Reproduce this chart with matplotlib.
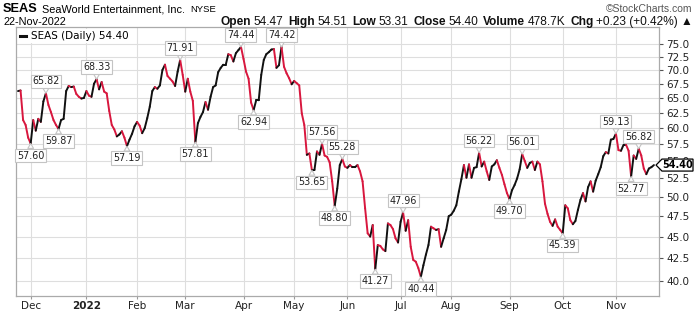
import matplotlib
matplotlib.use("Agg")
import matplotlib.pyplot as plt
import numpy as np
import pandas as pd
from matplotlib.collections import LineCollection
from matplotlib.lines import Line2D
from matplotlib.patches import Polygon
from matplotlib.ticker import FixedLocator, NullLocator, FuncFormatter

# trading days shown on the chart
holidays = ["2021-11-25", "2021-12-24", "2022-01-17", "2022-02-21", "2022-04-15",
            "2022-05-30", "2022-06-20", "2022-07-04", "2022-09-05"]
dates = pd.bdate_range("2021-11-23", "2022-11-22", freq="C", holidays=holidays)

# daily close
closes = [
    66.2, 66.3, 61.3, 60.5, 58.5, 57.60, 61.3, 59.6, 61.5, 61.0,
    64.4, 65.82, 63.8, 62.6, 61.3, 60.5, 59.87, 61.3, 61.5, 66.2,
    67.1, 66.9, 67.0, 65.7, 65.2, 64.9, 65.0, 66.2, 65.4, 65.2,
    67.5, 68.33, 66.5, 67.8, 66.1, 65.8, 62.8, 60.5, 59.8, 58.7,
    59.0, 59.5, 58.5, 57.19, 58.2, 59.1, 60.3, 61.0, 60.4, 59.2,
    60.0, 61.6, 63.5, 66.2, 66.9, 66.6, 67.2, 70.0, 71.0, 68.9,
    68.4, 67.9, 67.1, 69.7, 71.91, 69.1, 66.1, 68.4, 66.1, 64.5,
    57.81, 60.8, 61.8, 62.6, 64.3, 63.0, 65.2, 66.9, 67.2, 69.6,
    70.4, 71.0, 71.0, 73.0, 72.8, 71.6, 73.2, 73.8, 74.44, 72.1,
    69.7, 68.4, 64.2, 62.94, 64.6, 64.6, 69.1, 71.9, 73.0, 73.4,
    73.9, 74.0, 70.4, 70.9, 74.42, 70.6, 69.4, 68.5, 67.4, 68.0,
    67.6, 67.2, 62.4, 60.5, 55.9, 56.1, 53.65, 53.7, 56.4, 55.9,
    57.56, 55.8, 55.6, 54.8, 52.1, 48.80, 51.1, 54.4, 55.28, 54.2,
    54.0, 54.4, 54.1, 54.1, 54.4, 53.5, 52.1, 48.5, 45.4, 45.0,
    46.4, 41.27, 44.0, 43.9, 43.5, 43.3, 46.6, 46.4, 45.9, 44.8,
    44.3, 46.8, 47.96, 45.7, 47.0, 43.8, 42.3, 42.1, 41.4, 40.44,
    41.7, 42.9, 44.0, 46.2, 46.0, 45.8, 45.9, 43.8, 44.8, 45.8,
    47.5, 47.7, 48.2, 48.9, 50.7, 52.4, 54.4, 52.6, 54.5, 52.6,
    54.0, 54.1, 56.22, 54.2, 54.9, 53.5, 52.3, 54.2, 54.5, 55.1,
    54.0, 53.0, 51.7, 50.5, 49.70, 50.9, 51.6, 52.5, 53.8, 56.01,
    55.0, 54.0, 54.7, 54.9, 53.7, 54.9, 54.5, 52.1, 49.1, 47.8,
    46.8, 46.3, 47.1, 46.2, 45.8, 45.39, 48.9, 48.5, 47.0, 46.5,
    46.9, 48.3, 49.6, 50.5, 49.4, 51.3, 52.1, 50.7, 52.2, 53.1,
    54.1, 55.7, 56.3, 56.1, 58.2, 58.3, 59.13, 56.6, 56.5, 57.4,
    57.4, 56.5, 52.77, 55.8, 55.3, 56.82, 55.8, 53.9, 53.1, 53.9,
    54.1, 54.40,
]
dates = dates[-len(closes):]

# labelled swing points (index into closes)
peak_idx = [11, 31, 64, 88, 104, 120, 128, 152, 182, 199, 236, 245]
trough_idx = [5, 16, 43, 70, 93, 116, 125, 141, 159, 194, 215, 242]

price_ticks = [40.0, 42.5, 45.0, 47.5, 50.0, 52.5, 55.0, 57.5, 60.0,
               62.5, 65.0, 67.5, 70.0, 72.5, 75.0]

RED = "#d8173e"
DARK = "#111111"
GRID = "#dedede"

fig = plt.figure(figsize=(7, 3.12), dpi=100)
ax = fig.add_axes([16 / 700, 16 / 312, 643 / 700, 269 / 312])

x = np.arange(len(closes))
y = np.array(closes)
pts = np.column_stack([x, y])
segs = np.stack([pts[:-1], pts[1:]], axis=1)
cols = [RED if b < a else DARK for a, b in zip(y[:-1], y[1:])]
lc = LineCollection(segs, colors=cols, linewidths=1.4, capstyle="round", joinstyle="round", zorder=3)
ax.add_collection(lc)

ax.set_yscale("log")
ax.set_ylim(38.44, 78.46)
ax.set_xlim(-0.8, 253)

# month ticks
month_pos = [i for i in range(1, len(dates)) if dates[i].month != dates[i - 1].month]
month_lab = ["2022" if dates[i].month == 1 else dates[i].strftime("%b") for i in month_pos]
ax.set_xticks(month_pos)
ax.set_xticklabels(month_lab, fontsize=7.5, color="#222222")
for t, lab in zip(ax.get_xticklabels(), month_lab):
    if lab == "2022":
        t.set_fontweight("bold")
ax.tick_params(axis="x", length=2, color="#999999", pad=1.5)

ax.yaxis.tick_right()
ax.yaxis.set_major_locator(FixedLocator(price_ticks))
ax.yaxis.set_minor_locator(NullLocator())
ax.yaxis.set_major_formatter(FuncFormatter(lambda v, p: f"{v:.1f}"))
ax.tick_params(axis="y", labelsize=7.5, length=3, color="#555555", pad=2, labelcolor="#222222")

ax.grid(True, color=GRID, lw=0.8, zorder=0)
ax.set_axisbelow(True)
for s in ax.spines.values():
    s.set_color("#aaaaaa")
    s.set_linewidth(0.9)

box = dict(boxstyle="square,pad=0.18", fc="white", ec="#c4c4c4", lw=0.8)
arrow = dict(arrowstyle="wedge,tail_width=0.6", fc="white", ec="#c4c4c4", lw=0.8, shrinkA=0, shrinkB=0)
for i in peak_idx:
    ax.annotate(f"{closes[i]:.2f}", (i, closes[i]), xytext=(0, 12), textcoords="offset pixels",
                ha="center", va="center", fontsize=6.9, color="#222222", bbox=box, arrowprops=arrow, zorder=5)
for i in trough_idx:
    ax.annotate(f"{closes[i]:.2f}", (i, closes[i]), xytext=(0, -12), textcoords="offset pixels",
                ha="center", va="center", fontsize=6.9, color="#222222", bbox=box, arrowprops=arrow, zorder=5)

leg = ax.legend(handles=[Line2D([], [], color=DARK, lw=2.2)], labels=[f"SEAS (Daily) {closes[-1]:.2f}"],
                loc="upper left", fontsize=7.5, handlelength=0.6, handletextpad=0.4,
                frameon=True, framealpha=1, borderpad=0.2, borderaxespad=0.2)
leg.get_frame().set_edgecolor("none")

# last price tag on the right axis
yc = ax.transData.transform((0, closes[-1]))[1]
xr = ax.transAxes.transform((1, 0))[0]
tag = Polygon([(xr - 3, yc), (xr + 3, yc - 6), (xr + 34, yc - 6), (xr + 34, yc + 6), (xr + 3, yc + 6)],
              closed=True, fc="white", ec="black", lw=0.9, transform=None, clip_on=False, zorder=6)
fig.add_artist(tag)
fig.text((xr + 18.5) / 700, yc / 312, f"{closes[-1]:.2f}", ha="center", va="center",
         fontsize=7, fontweight="bold", color="black", zorder=7)

# header
hdr = ["Liberation Sans", "DejaVu Sans"]
fig.text(3 / 700, 1 - 9 / 312, "SEAS", fontsize=9.2, fontweight="bold", family=hdr, va="center")
fig.text(42 / 700, 1 - 9 / 312, "SeaWorld Entertainment, Inc.", fontsize=7.8, family=hdr, va="center")
fig.text(190 / 700, 1 - 9 / 312, "NYSE", fontsize=6.8, family=hdr, va="center")
fig.text(692 / 700, 1 - 9 / 312, "©StockCharts.com", fontsize=7.5, family=hdr, va="center",
         ha="right", color="#555555")
fig.text(3 / 700, 1 - 22 / 312, "22-Nov-2022", fontsize=7.8, family=hdr, va="center")

pieces = [("Open", True), ("54.47", False), ("High", True), ("54.51", False), ("Low", True),
          ("53.31", False), ("Close", True), ("54.40", False), ("Volume", True), ("478.7K", False),
          ("Chg", True), ("+0.23 (+0.42%)", False), ("▲", False)]
fig.canvas.draw()
renderer = fig.canvas.get_renderer()
xpos = 692.0
for s, bold in reversed(pieces):
    t = fig.text(xpos / 700, 1 - 22 / 312, s, fontsize=8.6, family=hdr, va="center", ha="right",
                 fontweight="bold" if bold else "normal", color="#111111")
    w = t.get_window_extent(renderer).width
    xpos -= w + (2.5 if not bold else 5)

fig.savefig("out.png", dpi=100)
